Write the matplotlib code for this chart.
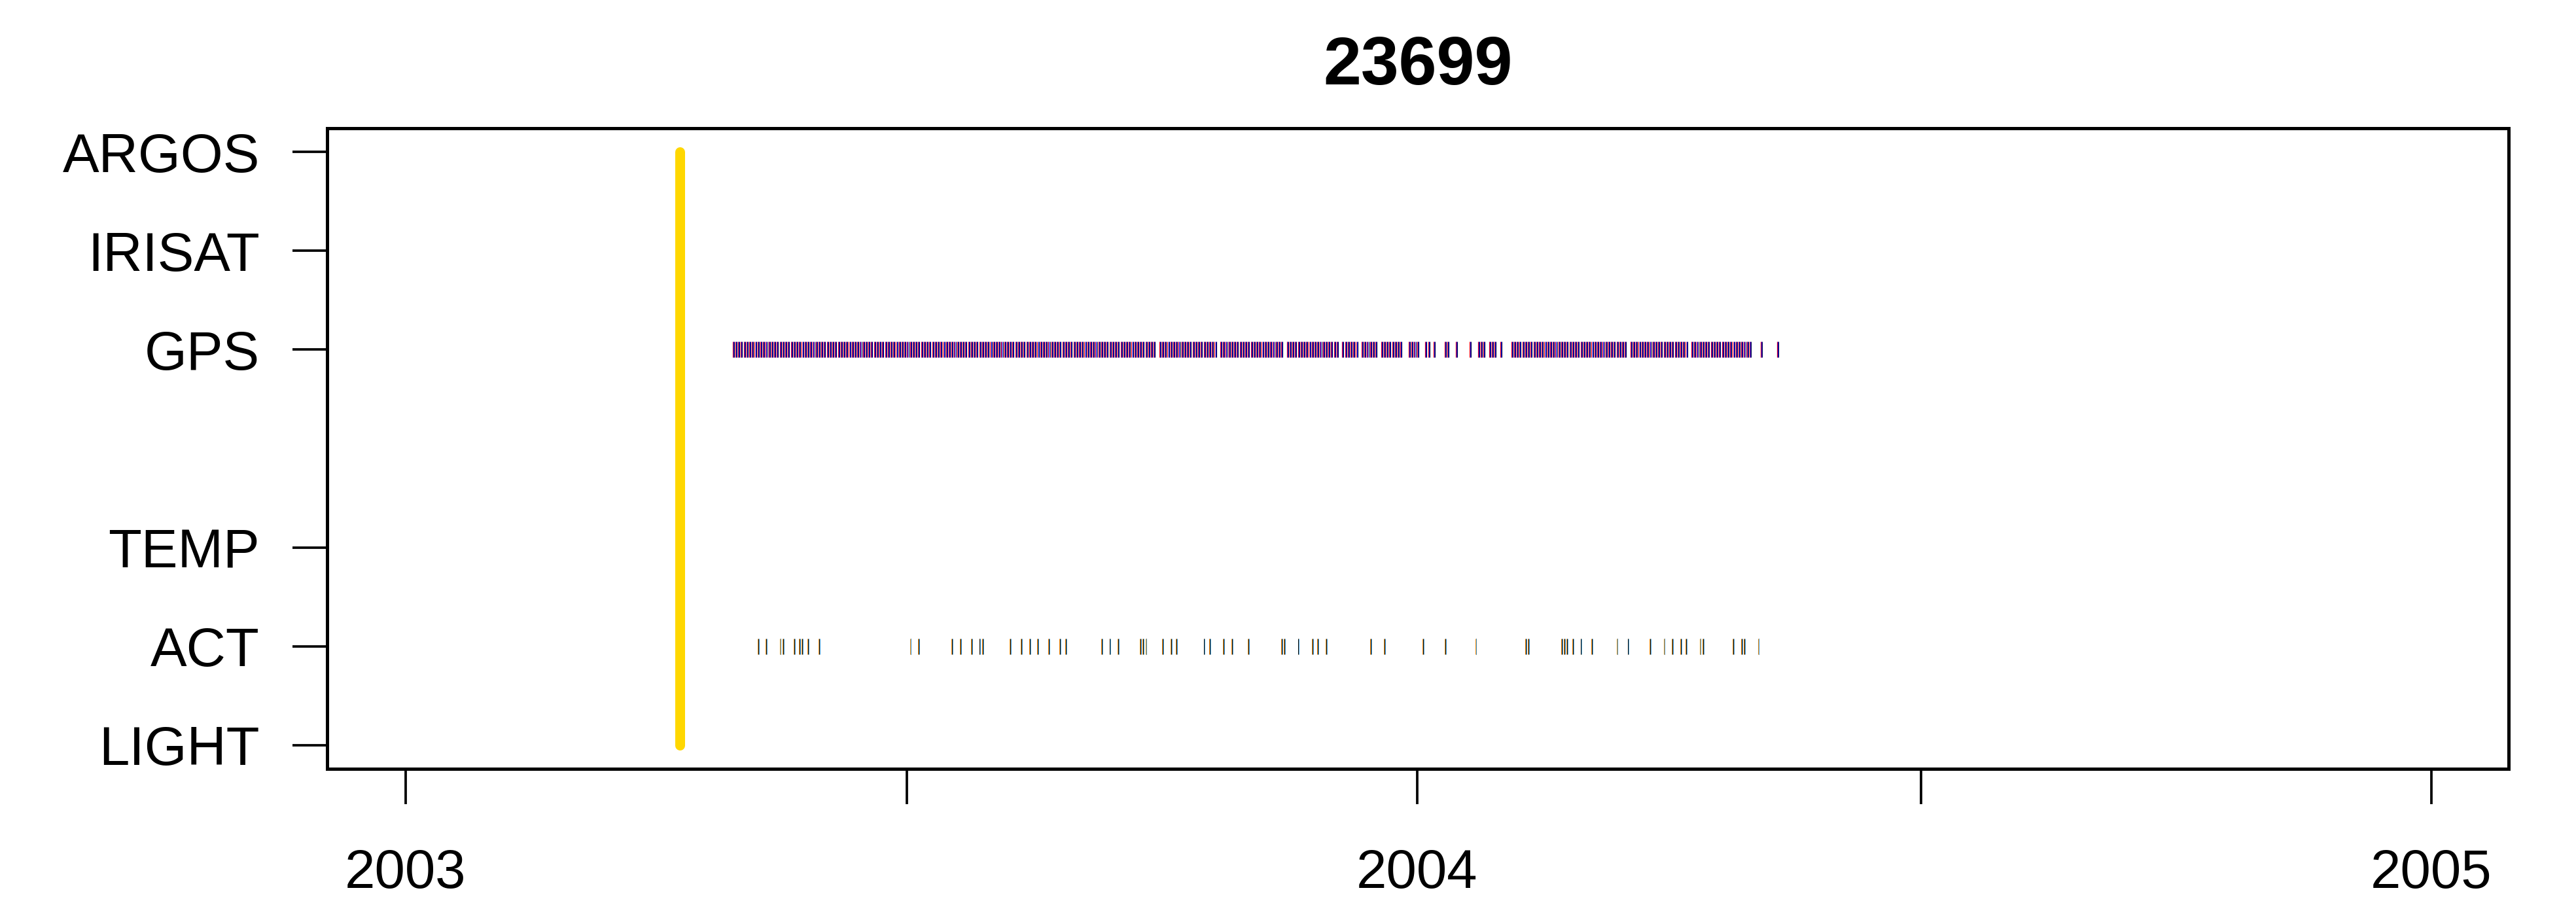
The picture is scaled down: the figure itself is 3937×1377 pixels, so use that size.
import numpy as np
import pandas as pd
import matplotlib
matplotlib.use("Agg")
import matplotlib.pyplot as plt
import matplotlib.dates as mdates

plt.rcParams['font.family'] = ['Liberation Sans', 'DejaVu Sans']

# rows of the chart (y position -> label)
row_labels = ["LIGHT", "ACT", "TEMP", "GPS", "IRISAT", "ARGOS"]
row_pos = [1, 2, 3, 5, 6, 7]

# deployment date (yellow line)
deploy_date = "2003-04-10"

# GPS: runs of daily fixes (start, end) and isolated days
gps_runs = [
    ("2003-04-29", "2003-09-28"),
    ("2003-09-30", "2003-10-20"),
    ("2003-10-22", "2003-11-13"),
    ("2003-11-15", "2003-12-03"),
    ("2003-12-05", "2003-12-10"),
    ("2003-12-12", "2003-12-17"),
    ("2003-12-19", "2003-12-26"),
    ("2003-12-29", "2004-01-01"),
    ("2004-02-04", "2004-03-16"),
    ("2004-03-18", "2004-04-07"),
    ("2004-04-09", "2004-04-30"),
]
gps_days = ["2004-01-04", "2004-01-05", "2004-01-07", "2004-01-11", "2004-01-12",
            "2004-01-15", "2004-01-20", "2004-01-23", "2004-01-24", "2004-01-25",
            "2004-01-27", "2004-01-28", "2004-01-29", "2004-01-31",
            "2004-05-04", "2004-05-10"]

# ACT: days with activity records
act_days = ["2003-05-08", "2003-05-11", "2003-05-16", "2003-05-17", "2003-05-21",
            "2003-05-23", "2003-05-24", "2003-05-26", "2003-05-30", "2003-07-02",
            "2003-07-05", "2003-07-17", "2003-07-20", "2003-07-24", "2003-07-27",
            "2003-07-28", "2003-08-07", "2003-08-11", "2003-08-14", "2003-08-17",
            "2003-08-21", "2003-08-25", "2003-08-27", "2003-09-09", "2003-09-12",
            "2003-09-15", "2003-09-23", "2003-09-24", "2003-09-25", "2003-10-01",
            "2003-10-04", "2003-10-06", "2003-10-16", "2003-10-18", "2003-10-23",
            "2003-10-26", "2003-11-01", "2003-11-13", "2003-11-14", "2003-11-19",
            "2003-11-24", "2003-11-26", "2003-11-29", "2003-12-15", "2003-12-20",
            "2004-01-03", "2004-01-11", "2004-01-22", "2004-02-09", "2004-02-10",
            "2004-02-22", "2004-02-23", "2004-02-24", "2004-02-26", "2004-02-29",
            "2004-03-04", "2004-03-13", "2004-03-17", "2004-03-25", "2004-03-30",
            "2004-04-02", "2004-04-05", "2004-04-07", "2004-04-12", "2004-04-13",
            "2004-04-24", "2004-04-27", "2004-04-28", "2004-05-03"]

gps_colors = ["red", "blue", "#000040"]
act_colors = ["darkorange", "black", "#3399dd"]

# expand the GPS runs to days
gps_all = []
for a, b in gps_runs:
    gps_all.extend(pd.date_range(a, b, freq="D"))
gps_all.extend(pd.to_datetime(gps_days))
gps_num = mdates.date2num(pd.DatetimeIndex(gps_all).to_pydatetime())
act_num = mdates.date2num(pd.to_datetime(act_days).to_pydatetime())

fig, ax = plt.subplots(figsize=(3937 / 300, 1377 / 300), dpi=300)
fig.subplots_adjust(left=0.127, right=0.9738, bottom=0.1467, top=0.8577)

# several fixes per day, drawn as coloured ticks
h = 0.08
for i, c in enumerate(gps_colors):
    ax.vlines(gps_num + i * 0.25, 5 - h, 5 + h, colors=c, linewidth=0.28)
for i, c in enumerate(act_colors):
    ax.vlines(act_num + i * 0.22, 2 - h, 2 + h, colors=c, linewidth=0.22)

dep = mdates.date2num(pd.Timestamp(deploy_date).to_pydatetime())
ax.plot([dep, dep], [1, 7], color="#FFD700", linewidth=3.6, solid_capstyle="round")

ax.set_ylim(0.76, 7.24)
ax.set_yticks(row_pos)
ax.set_yticklabels(row_labels)

x_ticks = ["2003-01-01", "2003-07-01", "2004-01-01", "2004-07-01", "2005-01-01"]
x_labels = ["2003", "", "2004", "", "2005"]
xt = mdates.date2num(pd.to_datetime(x_ticks).to_pydatetime())
ax.set_xticks(xt)
ax.set_xticklabels(x_labels)
ax.set_xlim(xt[0] - 28.3, xt[-1] + 27.9)

ax.tick_params(axis="y", length=12.7, width=0.9, pad=12, labelsize=20)
ax.tick_params(axis="x", length=13, width=0.9, pad=16, labelsize=20)
for s in ax.spines.values():
    s.set_linewidth(1.2)

ax.set_title("23699", fontsize=25, fontweight="bold", pad=16)

fig.savefig("out.png", dpi=300)
